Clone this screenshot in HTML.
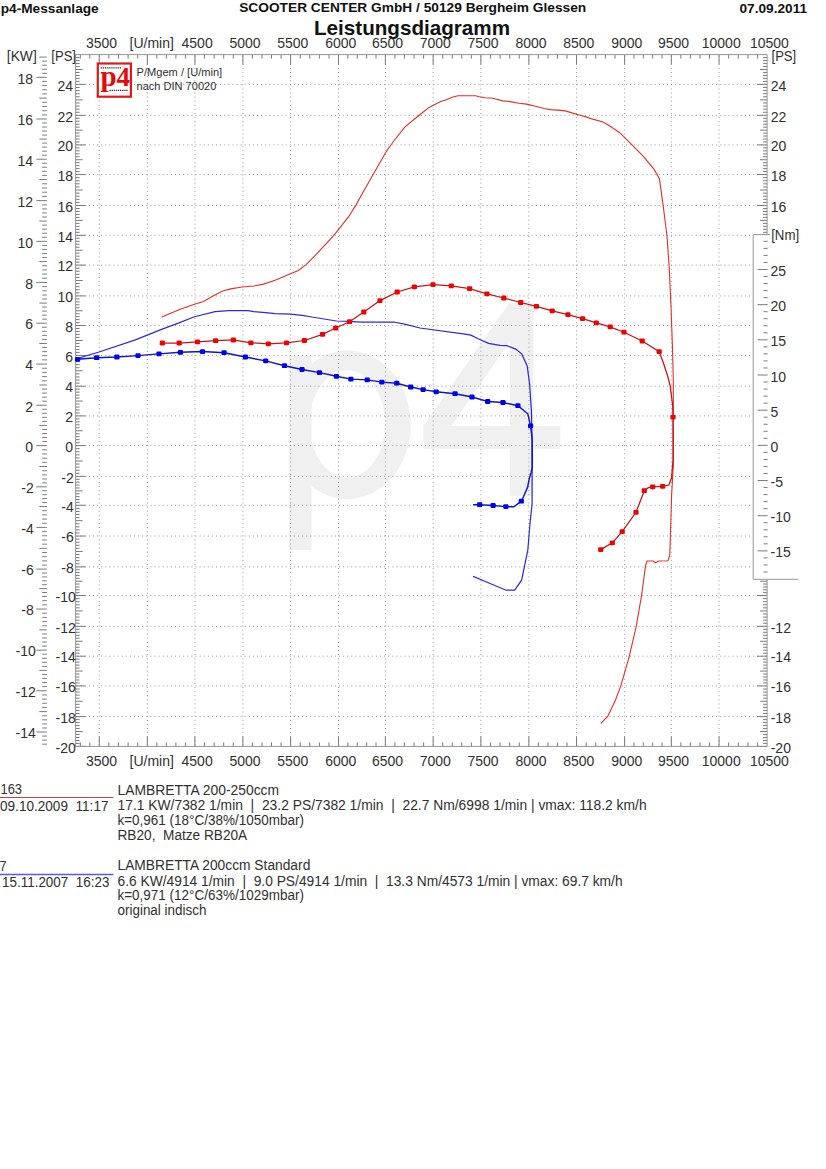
<!DOCTYPE html>
<html><head><meta charset="utf-8"><style>
html,body{margin:0;padding:0;background:#fff;width:826px;height:1169px;overflow:hidden}
svg{display:block}
</style></head><body>
<svg width="826" height="1169" viewBox="0 0 826 1169">
<rect width="826" height="1169" fill="#fff"/>
<defs><clipPath id="bc"><rect x="300" y="300" width="200" height="220"/></clipPath></defs>
<g fill="#f0f0f0">
<rect x="288.8" y="355.6" width="22.7" height="194.6"/>
<path clip-path="url(#bc)" fill-rule="evenodd" d="M347.35 350.6A63.45 74.25 0 1 1 347.35 499.1A63.45 74.25 0 1 1 347.35 350.6ZM347.35 370.3A37.85 53.6 0 1 0 347.35 477.5A37.85 53.6 0 1 0 347.35 370.3Z"/>
<path fill-rule="evenodd" d="M508.8 303.4H533.5V426H560.2V448.7H533.5V495.8H509.8V448.7H423.4V426ZM451.2 426H509.8V341.5Z"/>
</g>
<path d="M99.26 55.6V746.4M147.34 55.6V746.4M194.93 55.6V746.4M242.9 55.6V746.4M290.6 55.6V746.4M338.54 55.6V746.4M385.38 55.6V746.4M433.15 55.6V746.4M480.87 55.6V746.4M528.87 55.6V746.4M576.54 55.6V746.4M624.65 55.6V746.4M671.33 55.6V746.4M719.04 55.6V746.4" stroke="#999999" stroke-dasharray="1 3.1" fill="none"/>
<path d="M76.6 716.6H767.1M76.6 685.92H767.1M76.6 656.19H767.1M76.6 626.34H767.1M76.6 595.53H767.1M76.6 566.85H767.1M76.6 536.04H767.1M76.6 505.31H767.1M76.6 476.4H767.1M76.6 445.6H767.1M76.6 415.92H767.1M76.6 386.19H767.1M76.6 355.41H767.1M76.6 325.53H767.1M76.6 295.92H767.1M76.6 265.12H767.1M76.6 235.31H767.1M76.6 205.53H767.1M76.6 174.54H767.1M76.6 144.91H767.1M76.6 115.35H767.1M76.6 84.39H767.1" stroke="#999999" stroke-dasharray="1 3.1" fill="none"/>
<path d="M80.33 746.4v-4M80.33 54.6v4M89.8 746.4v-4M89.8 54.6v4M99.26 746.4v-10M99.26 54.6v10M108.88 746.4v-4M108.88 54.6v4M118.49 746.4v-4M118.49 54.6v4M128.11 746.4v-4M128.11 54.6v4M137.72 746.4v-4M137.72 54.6v4M147.34 746.4v-10M147.34 54.6v10M156.86 746.4v-4M156.86 54.6v4M166.38 746.4v-4M166.38 54.6v4M175.89 746.4v-4M175.89 54.6v4M185.41 746.4v-4M185.41 54.6v4M194.93 746.4v-10M194.93 54.6v10M204.52 746.4v-4M204.52 54.6v4M214.12 746.4v-4M214.12 54.6v4M223.71 746.4v-4M223.71 54.6v4M233.31 746.4v-4M233.31 54.6v4M242.9 746.4v-10M242.9 54.6v10M252.44 746.4v-4M252.44 54.6v4M261.98 746.4v-4M261.98 54.6v4M271.52 746.4v-4M271.52 54.6v4M281.06 746.4v-4M281.06 54.6v4M290.6 746.4v-10M290.6 54.6v10M300.19 746.4v-4M300.19 54.6v4M309.78 746.4v-4M309.78 54.6v4M319.36 746.4v-4M319.36 54.6v4M328.95 746.4v-4M328.95 54.6v4M338.54 746.4v-10M338.54 54.6v10M347.91 746.4v-4M347.91 54.6v4M357.28 746.4v-4M357.28 54.6v4M366.64 746.4v-4M366.64 54.6v4M376.01 746.4v-4M376.01 54.6v4M385.38 746.4v-10M385.38 54.6v10M394.93 746.4v-4M394.93 54.6v4M404.49 746.4v-4M404.49 54.6v4M414.04 746.4v-4M414.04 54.6v4M423.6 746.4v-4M423.6 54.6v4M433.15 746.4v-10M433.15 54.6v10M442.69 746.4v-4M442.69 54.6v4M452.24 746.4v-4M452.24 54.6v4M461.78 746.4v-4M461.78 54.6v4M471.33 746.4v-4M471.33 54.6v4M480.87 746.4v-10M480.87 54.6v10M490.47 746.4v-4M490.47 54.6v4M500.07 746.4v-4M500.07 54.6v4M509.67 746.4v-4M509.67 54.6v4M519.27 746.4v-4M519.27 54.6v4M528.87 746.4v-10M528.87 54.6v10M538.4 746.4v-4M538.4 54.6v4M547.94 746.4v-4M547.94 54.6v4M557.47 746.4v-4M557.47 54.6v4M567.01 746.4v-4M567.01 54.6v4M576.54 746.4v-10M576.54 54.6v10M586.16 746.4v-4M586.16 54.6v4M595.78 746.4v-4M595.78 54.6v4M605.41 746.4v-4M605.41 54.6v4M615.03 746.4v-4M615.03 54.6v4M624.65 746.4v-10M624.65 54.6v10M633.99 746.4v-4M633.99 54.6v4M643.32 746.4v-4M643.32 54.6v4M652.66 746.4v-4M652.66 54.6v4M661.99 746.4v-4M661.99 54.6v4M671.33 746.4v-10M671.33 54.6v10M680.87 746.4v-4M680.87 54.6v4M690.41 746.4v-4M690.41 54.6v4M699.96 746.4v-4M699.96 54.6v4M709.5 746.4v-4M709.5 54.6v4M719.04 746.4v-10M719.04 54.6v10M728.67 746.4v-4M728.67 54.6v4M738.3 746.4v-4M738.3 54.6v4M747.94 746.4v-4M747.94 54.6v4M757.57 746.4v-4M757.57 54.6v4M75.6 746.4h10M767.1 746.4h-10M75.6 743.42h4M767.1 743.42h-4M75.6 740.44h4M767.1 740.44h-4M75.6 737.46h4M767.1 737.46h-4M75.6 734.48h4M767.1 734.48h-4M75.6 731.5h7M767.1 731.5h-7M75.6 728.52h4M767.1 728.52h-4M75.6 725.54h4M767.1 725.54h-4M75.6 722.56h4M767.1 722.56h-4M75.6 719.58h4M767.1 719.58h-4M75.6 716.6h10M767.1 716.6h-10M75.6 713.53h4M767.1 713.53h-4M75.6 710.46h4M767.1 710.46h-4M75.6 707.4h4M767.1 707.4h-4M75.6 704.33h4M767.1 704.33h-4M75.6 701.26h7M767.1 701.26h-7M75.6 698.19h4M767.1 698.19h-4M75.6 695.12h4M767.1 695.12h-4M75.6 692.06h4M767.1 692.06h-4M75.6 688.99h4M767.1 688.99h-4M75.6 685.92h10M767.1 685.92h-10M75.6 682.95h4M767.1 682.95h-4M75.6 679.97h4M767.1 679.97h-4M75.6 677h4M767.1 677h-4M75.6 674.03h4M767.1 674.03h-4M75.6 671.06h7M767.1 671.06h-7M75.6 668.08h4M767.1 668.08h-4M75.6 665.11h4M767.1 665.11h-4M75.6 662.14h4M767.1 662.14h-4M75.6 659.16h4M767.1 659.16h-4M75.6 656.19h10M767.1 656.19h-10M75.6 653.21h4M767.1 653.21h-4M75.6 650.22h4M767.1 650.22h-4M75.6 647.24h4M767.1 647.24h-4M75.6 644.25h4M767.1 644.25h-4M75.6 641.27h7M767.1 641.27h-7M75.6 638.28h4M767.1 638.28h-4M75.6 635.3h4M767.1 635.3h-4M75.6 632.31h4M767.1 632.31h-4M75.6 629.33h4M767.1 629.33h-4M75.6 626.34h10M767.1 626.34h-10M75.6 623.26h4M767.1 623.26h-4M75.6 620.18h4M767.1 620.18h-4M75.6 617.1h4M767.1 617.1h-4M75.6 614.02h4M767.1 614.02h-4M75.6 610.93h7M767.1 610.93h-7M75.6 607.85h4M767.1 607.85h-4M75.6 604.77h4M767.1 604.77h-4M75.6 601.69h4M767.1 601.69h-4M75.6 598.61h4M767.1 598.61h-4M75.6 595.53h10M767.1 595.53h-10M75.6 592.66h4M767.1 592.66h-4M75.6 589.79h4M767.1 589.79h-4M75.6 586.93h4M767.1 586.93h-4M75.6 584.06h4M767.1 584.06h-4M75.6 581.19h7M767.1 581.19h-7M75.6 578.32h4M767.1 578.32h-4M75.6 575.45h4M767.1 575.45h-4M75.6 572.59h4M767.1 572.59h-4M75.6 569.72h4M767.1 569.72h-4M75.6 566.85h10M767.1 566.85h-10M75.6 563.77h4M767.1 563.77h-4M75.6 560.69h4M767.1 560.69h-4M75.6 557.61h4M767.1 557.61h-4M75.6 554.53h4M767.1 554.53h-4M75.6 551.44h7M767.1 551.44h-7M75.6 548.36h4M767.1 548.36h-4M75.6 545.28h4M767.1 545.28h-4M75.6 542.2h4M767.1 542.2h-4M75.6 539.12h4M767.1 539.12h-4M75.6 536.04h10M767.1 536.04h-10M75.6 532.97h4M767.1 532.97h-4M75.6 529.89h4M767.1 529.89h-4M75.6 526.82h4M767.1 526.82h-4M75.6 523.75h4M767.1 523.75h-4M75.6 520.67h7M767.1 520.67h-7M75.6 517.6h4M767.1 517.6h-4M75.6 514.53h4M767.1 514.53h-4M75.6 511.46h4M767.1 511.46h-4M75.6 508.38h4M767.1 508.38h-4M75.6 505.31h10M767.1 505.31h-10M75.6 502.42h4M767.1 502.42h-4M75.6 499.53h4M767.1 499.53h-4M75.6 496.64h4M767.1 496.64h-4M75.6 493.75h4M767.1 493.75h-4M75.6 490.86h7M767.1 490.86h-7M75.6 487.96h4M767.1 487.96h-4M75.6 485.07h4M767.1 485.07h-4M75.6 482.18h4M767.1 482.18h-4M75.6 479.29h4M767.1 479.29h-4M75.6 476.4h10M767.1 476.4h-10M75.6 473.32h4M767.1 473.32h-4M75.6 470.24h4M767.1 470.24h-4M75.6 467.16h4M767.1 467.16h-4M75.6 464.08h4M767.1 464.08h-4M75.6 461h7M767.1 461h-7M75.6 457.92h4M767.1 457.92h-4M75.6 454.84h4M767.1 454.84h-4M75.6 451.76h4M767.1 451.76h-4M75.6 448.68h4M767.1 448.68h-4M75.6 445.6h10M767.1 445.6h-10M75.6 442.63h4M767.1 442.63h-4M75.6 439.66h4M767.1 439.66h-4M75.6 436.7h4M767.1 436.7h-4M75.6 433.73h4M767.1 433.73h-4M75.6 430.76h7M767.1 430.76h-7M75.6 427.79h4M767.1 427.79h-4M75.6 424.82h4M767.1 424.82h-4M75.6 421.86h4M767.1 421.86h-4M75.6 418.89h4M767.1 418.89h-4M75.6 415.92h10M767.1 415.92h-10M75.6 412.95h4M767.1 412.95h-4M75.6 409.97h4M767.1 409.97h-4M75.6 407h4M767.1 407h-4M75.6 404.03h4M767.1 404.03h-4M75.6 401.06h7M767.1 401.06h-7M75.6 398.08h4M767.1 398.08h-4M75.6 395.11h4M767.1 395.11h-4M75.6 392.14h4M767.1 392.14h-4M75.6 389.16h4M767.1 389.16h-4M75.6 386.19h10M767.1 386.19h-10M75.6 383.11h4M767.1 383.11h-4M75.6 380.03h4M767.1 380.03h-4M75.6 376.96h4M767.1 376.96h-4M75.6 373.88h4M767.1 373.88h-4M75.6 370.8h7M767.1 370.8h-7M75.6 367.72h4M767.1 367.72h-4M75.6 364.64h4M767.1 364.64h-4M75.6 361.57h4M767.1 361.57h-4M75.6 358.49h4M767.1 358.49h-4M75.6 355.41h10M767.1 355.41h-10M75.6 352.42h4M767.1 352.42h-4M75.6 349.43h4M767.1 349.43h-4M75.6 346.45h4M767.1 346.45h-4M75.6 343.46h4M767.1 343.46h-4M75.6 340.47h7M767.1 340.47h-7M75.6 337.48h4M767.1 337.48h-4M75.6 334.49h4M767.1 334.49h-4M75.6 331.51h4M767.1 331.51h-4M75.6 328.52h4M767.1 328.52h-4M75.6 325.53h10M767.1 325.53h-10M75.6 322.57h4M767.1 322.57h-4M75.6 319.61h4M767.1 319.61h-4M75.6 316.65h4M767.1 316.65h-4M75.6 313.69h4M767.1 313.69h-4M75.6 310.73h7M767.1 310.73h-7M75.6 307.76h4M767.1 307.76h-4M75.6 304.8h4M767.1 304.8h-4M75.6 301.84h4M767.1 301.84h-4M75.6 298.88h4M767.1 298.88h-4M75.6 295.92h10M767.1 295.92h-10M75.6 292.84h4M767.1 292.84h-4M75.6 289.76h4M767.1 289.76h-4M75.6 286.68h4M767.1 286.68h-4M75.6 283.6h4M767.1 283.6h-4M75.6 280.52h7M767.1 280.52h-7M75.6 277.44h4M767.1 277.44h-4M75.6 274.36h4M767.1 274.36h-4M75.6 271.28h4M767.1 271.28h-4M75.6 268.2h4M767.1 268.2h-4M75.6 265.12h10M767.1 265.12h-10M75.6 262.14h4M767.1 262.14h-4M75.6 259.16h4M767.1 259.16h-4M75.6 256.18h4M767.1 256.18h-4M75.6 253.2h4M767.1 253.2h-4M75.6 250.22h7M767.1 250.22h-7M75.6 247.23h4M767.1 247.23h-4M75.6 244.25h4M767.1 244.25h-4M75.6 241.27h4M767.1 241.27h-4M75.6 238.29h4M767.1 238.29h-4M75.6 235.31h10M767.1 235.31h-10M75.6 232.33h4M767.1 232.33h-4M75.6 229.35h4M767.1 229.35h-4M75.6 226.38h4M767.1 226.38h-4M75.6 223.4h4M767.1 223.4h-4M75.6 220.42h7M767.1 220.42h-7M75.6 217.44h4M767.1 217.44h-4M75.6 214.46h4M767.1 214.46h-4M75.6 211.49h4M767.1 211.49h-4M75.6 208.51h4M767.1 208.51h-4M75.6 205.53h10M767.1 205.53h-10M75.6 202.43h4M767.1 202.43h-4M75.6 199.33h4M767.1 199.33h-4M75.6 196.23h4M767.1 196.23h-4M75.6 193.13h4M767.1 193.13h-4M75.6 190.03h7M767.1 190.03h-7M75.6 186.94h4M767.1 186.94h-4M75.6 183.84h4M767.1 183.84h-4M75.6 180.74h4M767.1 180.74h-4M75.6 177.64h4M767.1 177.64h-4M75.6 174.54h10M767.1 174.54h-10M75.6 171.58h4M767.1 171.58h-4M75.6 168.61h4M767.1 168.61h-4M75.6 165.65h4M767.1 165.65h-4M75.6 162.69h4M767.1 162.69h-4M75.6 159.72h7M767.1 159.72h-7M75.6 156.76h4M767.1 156.76h-4M75.6 153.8h4M767.1 153.8h-4M75.6 150.84h4M767.1 150.84h-4M75.6 147.87h4M767.1 147.87h-4M75.6 144.91h10M767.1 144.91h-10M75.6 141.95h4M767.1 141.95h-4M75.6 139h4M767.1 139h-4M75.6 136.04h4M767.1 136.04h-4M75.6 133.09h4M767.1 133.09h-4M75.6 130.13h7M767.1 130.13h-7M75.6 127.17h4M767.1 127.17h-4M75.6 124.22h4M767.1 124.22h-4M75.6 121.26h4M767.1 121.26h-4M75.6 118.31h4M767.1 118.31h-4M75.6 115.35h10M767.1 115.35h-10M75.6 112.25h4M767.1 112.25h-4M75.6 109.16h4M767.1 109.16h-4M75.6 106.06h4M767.1 106.06h-4M75.6 102.97h4M767.1 102.97h-4M75.6 99.87h7M767.1 99.87h-7M75.6 96.77h4M767.1 96.77h-4M75.6 93.68h4M767.1 93.68h-4M75.6 90.58h4M767.1 90.58h-4M75.6 87.49h4M767.1 87.49h-4M75.6 84.39h10M767.1 84.39h-10M75.6 81.41h4M767.1 81.41h-4M75.6 78.43h4M767.1 78.43h-4M75.6 75.45h4M767.1 75.45h-4M75.6 72.47h4M767.1 72.47h-4M75.6 69.5h7M767.1 69.5h-7M75.6 66.52h4M767.1 66.52h-4M75.6 63.54h4M767.1 63.54h-4M75.6 60.56h4M767.1 60.56h-4M75.6 57.58h4M767.1 57.58h-4M46.8 744.17h-4.6M46.8 740.12h-4.6M46.8 736.07h-4.6M46.8 732.02h-10.5M46.8 727.97h-4.6M46.8 723.91h-4.6M46.8 719.86h-4.6M46.8 715.79h-4.6M46.8 711.62h-7.5M46.8 707.44h-4.6M46.8 703.27h-4.6M46.8 699.1h-4.6M46.8 694.93h-4.6M46.8 690.76h-10.5M46.8 686.59h-4.6M46.8 682.52h-4.6M46.8 678.48h-4.6M46.8 674.44h-4.6M46.8 670.4h-7.5M46.8 666.36h-4.6M46.8 662.31h-4.6M46.8 658.27h-4.6M46.8 654.22h-4.6M46.8 650.16h-10.5M46.8 646.1h-4.6M46.8 642.05h-4.6M46.8 637.99h-4.6M46.8 633.93h-4.6M46.8 629.87h-7.5M46.8 625.8h-4.6M46.8 621.61h-4.6M46.8 617.42h-4.6M46.8 613.23h-4.6M46.8 609.04h-10.5M46.8 604.85h-4.6M46.8 600.66h-4.6M46.8 596.47h-4.6M46.8 592.51h-4.6M46.8 588.61h-7.5M46.8 584.71h-4.6M46.8 580.81h-4.6M46.8 576.91h-4.6M46.8 573.01h-4.6M46.8 569.11h-10.5M46.8 565.09h-4.6M46.8 560.9h-4.6M46.8 556.71h-4.6M46.8 552.52h-4.6M46.8 548.33h-7.5M46.8 544.15h-4.6M46.8 539.96h-4.6M46.8 535.77h-4.6M46.8 531.59h-4.6M46.8 527.41h-10.5M46.8 523.23h-4.6M46.8 519.06h-4.6M46.8 514.88h-4.6M46.8 510.7h-4.6M46.8 506.52h-7.5M46.8 502.52h-4.6M46.8 498.59h-4.6M46.8 494.66h-4.6M46.8 490.73h-4.6M46.8 486.8h-10.5M46.8 482.87h-4.6M46.8 478.94h-4.6M46.8 474.91h-4.6M46.8 470.73h-4.6M46.8 466.54h-7.5M46.8 462.35h-4.6M46.8 458.16h-4.6M46.8 453.98h-4.6M46.8 449.79h-4.6M46.8 445.6h-10.5M46.8 441.56h-4.6M46.8 437.53h-4.6M46.8 433.49h-4.6M46.8 429.46h-4.6M46.8 425.42h-7.5M46.8 421.39h-4.6M46.8 417.35h-4.6M46.8 413.31h-4.6M46.8 409.27h-4.6M46.8 405.23h-10.5M46.8 401.19h-4.6M46.8 397.14h-4.6M46.8 393.1h-4.6M46.8 389.06h-4.6M46.8 384.98h-7.5M46.8 380.79h-4.6M46.8 376.61h-4.6M46.8 372.42h-4.6M46.8 368.24h-4.6M46.8 364.05h-10.5M46.8 359.87h-4.6M46.8 355.68h-4.6M46.8 351.61h-4.6M46.8 347.55h-4.6M46.8 343.49h-7.5M46.8 339.42h-4.6M46.8 335.36h-4.6M46.8 331.3h-4.6M46.8 327.24h-4.6M46.8 323.19h-10.5M46.8 319.17h-4.6M46.8 315.14h-4.6M46.8 311.12h-4.6M46.8 307.09h-4.6M46.8 303.07h-7.5M46.8 299.04h-4.6M46.8 294.98h-4.6M46.8 290.79h-4.6M46.8 286.6h-4.6M46.8 282.41h-10.5M46.8 278.23h-4.6M46.8 274.04h-4.6M46.8 269.85h-4.6M46.8 265.66h-4.6M46.8 261.59h-7.5M46.8 257.54h-4.6M46.8 253.49h-4.6M46.8 249.43h-4.6M46.8 245.38h-4.6M46.8 241.33h-10.5M46.8 237.28h-4.6M46.8 233.22h-4.6M46.8 229.18h-4.6M46.8 225.13h-4.6M46.8 221.08h-7.5M46.8 217.03h-4.6M46.8 212.98h-4.6M46.8 208.93h-4.6M46.8 204.86h-4.6M46.8 200.64h-10.5M46.8 196.43h-4.6M46.8 192.22h-4.6M46.8 188h-4.6M46.8 183.79h-4.6M46.8 179.57h-7.5M46.8 175.36h-4.6M46.8 171.3h-4.6M46.8 167.27h-4.6M46.8 163.24h-4.6M46.8 159.21h-10.5M46.8 155.18h-4.6M46.8 151.15h-4.6M46.8 147.13h-4.6M46.8 143.1h-4.6M46.8 139.08h-7.5M46.8 135.06h-4.6M46.8 131.04h-4.6M46.8 127.03h-4.6M46.8 123.01h-4.6M46.8 118.99h-10.5M46.8 114.95h-4.6M46.8 110.74h-4.6M46.8 106.53h-4.6M46.8 102.32h-4.6M46.8 98.11h-7.5M46.8 93.9h-4.6M46.8 89.69h-4.6M46.8 85.48h-4.6M46.8 81.39h-4.6M46.8 77.34h-10.5M46.8 73.29h-4.6M46.8 69.24h-4.6M46.8 65.19h-4.6M46.8 61.14h-4.6M46.8 57.09h-7.5" stroke="#7a7a7a" fill="none"/>
<path d="M75.6 54.6H767.1V746.4H75.6Z" stroke="#959595" fill="none"/>
<polyline points="161.8,317 180.2,309.2 193.7,304.4 203.4,301.5 213.1,295.9 222.8,291 230.5,288.9 242.2,287 253.8,286 263.5,284.1 275.1,280.2 288.7,274.4 298.3,270.5 306.1,264.7 315.3,255.4 328.3,241.3 334.9,234.1 349,216.2 356.2,204.6 364.3,190 373,174.8 385.4,153 393.7,141 404.8,127.2 414.5,119 424.2,111.2 429.1,107.4 433.9,105 440.7,101.6 445.5,100.1 452.3,97.2 458.1,95.8 475.5,95.8 479.4,96.8 485.3,97.8 492.9,98.3 502.7,100.9 510.3,101.6 519,103.3 526.6,104.1 535.4,106.3 544.1,108.5 550.6,109.6 557.6,110.1 565.3,110.9 571.8,112.9 578.3,114.7 586,116.9 593.6,119.4 602.3,121.8 606.6,124 613.2,128.3 619.7,132.7 626.3,139.2 643.4,156.3 654.1,169.4 659.4,178.8 663.1,205.2 666.9,235.3 669.1,265.4 671,306.8 672.5,348.2 673.3,380 673.4,463.4 671.6,495.7 669.8,555 668,560.8 658.6,561 655.5,562.8 653.2,561 647,561 645.5,566.2 641.6,595.4 636.2,626.3 629.3,656.3 620.8,685.9 615.4,700.2 607.7,716.4 600.8,723.3" fill="none" stroke="#e0302a" stroke-width="1.1"/>
<polyline points="162.3,343 179.2,343 197.5,341.8 215.6,340.7 233.4,340 250.9,342.8 268.3,343.9 286.5,342.8 304.4,340.5 322.5,334.4 335.7,328 349.5,321.7 363.8,312 380,300.6 397.2,292 414.4,286.8 433,284.6 451.3,285.8 469.6,288.6 486.9,293.9 503.8,298 520.7,302.5 536.4,306.3 552.2,310.8 567.9,314.6 582.6,318.6 596.3,322.8 610.2,326.9 624,332.2 642.2,341 659.2,351.6 663.5,363.2 667.8,376.5 670.2,386.2 672.7,405.6 673,417.1 673,459.8 671.6,477.8 668.9,485 662.6,486.4 652.7,486.8 648.3,487.7 644.3,490.7 636,512.3 622.2,531.7 612.3,542.8 600.7,549.6" fill="none" stroke="#c41414" stroke-width="1.25"/>
<polyline points="76,358.8 98.3,352.3 135.4,339.9 161.5,329.4 179,322.9 193.7,317 215,311.6 228.6,310.6 248,310.6 253.8,311.6 265.4,312.7 275.1,313.7 290.6,314.1 302.2,315.4 311.9,317 336.4,321 348.8,321.3 362,322.1 393.8,322 405.6,324.3 420,328 465,334.2 470.9,335.1 478.2,338.8 488.5,343.4 500,345.4 506.6,345.7 515.7,349.1 521.7,353.9 527.2,366 529.6,384.2 531.4,410.8 532.1,440 532.1,504 530.1,522.4 527.8,550.2 521.6,580.2 514.7,590.2 506.2,590.2 487.7,582.5 473.1,576.4" fill="none" stroke="#2a2ad0" stroke-width="1.2"/>
<polyline points="77.6,359.3 96.6,357.7 116.9,357 138,355.6 159,353.9 180.4,352.3 202.5,351.6 224.1,352.7 245.4,357 265.7,360.9 284.5,365.7 302,369.5 319.5,372.6 336.4,376.3 350.9,379.1 367.2,379.9 381.8,382.1 396.8,383.2 410.7,387 423.1,389.6 436.2,391.8 455,393.7 472,397 487.7,401.5 503,402.5 517.9,405.7 527.8,413.8 530.6,425.9 532.2,440 532.3,467.4 531,472.9 529.3,478.4 527.6,487.3 522.8,498.2 521.3,501.2 513.9,506.8 505.9,506.6 493.1,505.5 479.7,504.7 473.1,504.7" fill="none" stroke="#1414c0" stroke-width="1.45"/>
<g fill="#f00000"><rect x="159.7" y="340.6" width="5.2" height="4.8" rx="1.2"/><rect x="176.6" y="340.6" width="5.2" height="4.8" rx="1.2"/><rect x="194.9" y="339.4" width="5.2" height="4.8" rx="1.2"/><rect x="213" y="338.3" width="5.2" height="4.8" rx="1.2"/><rect x="230.8" y="337.6" width="5.2" height="4.8" rx="1.2"/><rect x="248.3" y="340.4" width="5.2" height="4.8" rx="1.2"/><rect x="265.7" y="341.5" width="5.2" height="4.8" rx="1.2"/><rect x="283.9" y="340.4" width="5.2" height="4.8" rx="1.2"/><rect x="301.8" y="338.1" width="5.2" height="4.8" rx="1.2"/><rect x="319.9" y="332" width="5.2" height="4.8" rx="1.2"/><rect x="333.1" y="325.6" width="5.2" height="4.8" rx="1.2"/><rect x="346.9" y="319.3" width="5.2" height="4.8" rx="1.2"/><rect x="361.2" y="309.6" width="5.2" height="4.8" rx="1.2"/><rect x="377.4" y="298.2" width="5.2" height="4.8" rx="1.2"/><rect x="394.6" y="289.6" width="5.2" height="4.8" rx="1.2"/><rect x="411.8" y="284.4" width="5.2" height="4.8" rx="1.2"/><rect x="430.4" y="282.2" width="5.2" height="4.8" rx="1.2"/><rect x="448.7" y="283.4" width="5.2" height="4.8" rx="1.2"/><rect x="467" y="286.2" width="5.2" height="4.8" rx="1.2"/><rect x="484.3" y="291.5" width="5.2" height="4.8" rx="1.2"/><rect x="501.2" y="295.6" width="5.2" height="4.8" rx="1.2"/><rect x="518.1" y="300.1" width="5.2" height="4.8" rx="1.2"/><rect x="533.8" y="303.9" width="5.2" height="4.8" rx="1.2"/><rect x="549.6" y="308.4" width="5.2" height="4.8" rx="1.2"/><rect x="565.3" y="312.2" width="5.2" height="4.8" rx="1.2"/><rect x="580" y="316.2" width="5.2" height="4.8" rx="1.2"/><rect x="593.7" y="320.4" width="5.2" height="4.8" rx="1.2"/><rect x="607.6" y="324.5" width="5.2" height="4.8" rx="1.2"/><rect x="621.4" y="329.8" width="5.2" height="4.8" rx="1.2"/><rect x="639.6" y="338.6" width="5.2" height="4.8" rx="1.2"/><rect x="656.6" y="349.2" width="5.2" height="4.8" rx="1.2"/><rect x="670.4" y="414.7" width="5.2" height="4.8" rx="1.2"/><rect x="660" y="484" width="5.2" height="4.8" rx="1.2"/><rect x="650.1" y="484.4" width="5.2" height="4.8" rx="1.2"/><rect x="641.7" y="488.3" width="5.2" height="4.8" rx="1.2"/><rect x="633.4" y="509.9" width="5.2" height="4.8" rx="1.2"/><rect x="619.6" y="529.3" width="5.2" height="4.8" rx="1.2"/><rect x="609.7" y="540.4" width="5.2" height="4.8" rx="1.2"/><rect x="598.1" y="547.2" width="5.2" height="4.8" rx="1.2"/></g>
<g fill="#0000f0"><rect x="75" y="356.9" width="5.2" height="4.8" rx="1.2"/><rect x="94" y="355.3" width="5.2" height="4.8" rx="1.2"/><rect x="114.3" y="354.6" width="5.2" height="4.8" rx="1.2"/><rect x="135.4" y="353.2" width="5.2" height="4.8" rx="1.2"/><rect x="156.4" y="351.5" width="5.2" height="4.8" rx="1.2"/><rect x="177.8" y="349.9" width="5.2" height="4.8" rx="1.2"/><rect x="199.9" y="349.2" width="5.2" height="4.8" rx="1.2"/><rect x="221.5" y="350.3" width="5.2" height="4.8" rx="1.2"/><rect x="242.8" y="354.6" width="5.2" height="4.8" rx="1.2"/><rect x="263.1" y="358.5" width="5.2" height="4.8" rx="1.2"/><rect x="281.9" y="363.3" width="5.2" height="4.8" rx="1.2"/><rect x="299.4" y="367.1" width="5.2" height="4.8" rx="1.2"/><rect x="316.9" y="370.2" width="5.2" height="4.8" rx="1.2"/><rect x="333.8" y="373.9" width="5.2" height="4.8" rx="1.2"/><rect x="348.3" y="376.7" width="5.2" height="4.8" rx="1.2"/><rect x="364.6" y="377.5" width="5.2" height="4.8" rx="1.2"/><rect x="379.2" y="379.7" width="5.2" height="4.8" rx="1.2"/><rect x="394.2" y="380.8" width="5.2" height="4.8" rx="1.2"/><rect x="408.1" y="384.6" width="5.2" height="4.8" rx="1.2"/><rect x="420.5" y="387.2" width="5.2" height="4.8" rx="1.2"/><rect x="433.6" y="389.4" width="5.2" height="4.8" rx="1.2"/><rect x="452.4" y="391.3" width="5.2" height="4.8" rx="1.2"/><rect x="469.4" y="394.6" width="5.2" height="4.8" rx="1.2"/><rect x="485.1" y="399.1" width="5.2" height="4.8" rx="1.2"/><rect x="500.4" y="400.1" width="5.2" height="4.8" rx="1.2"/><rect x="515.3" y="403.3" width="5.2" height="4.8" rx="1.2"/><rect x="528" y="423.5" width="5.2" height="4.8" rx="1.2"/><rect x="518.7" y="498.8" width="5.2" height="4.8" rx="1.2"/><rect x="503.3" y="504.2" width="5.2" height="4.8" rx="1.2"/><rect x="490.5" y="503.1" width="5.2" height="4.8" rx="1.2"/><rect x="477.1" y="502.3" width="5.2" height="4.8" rx="1.2"/></g>
<rect x="753" y="234.5" width="15.5" height="345" fill="#ffffff"/>
<path d="M767.6 571.98h-4M767.6 564.95h-4M767.6 557.91h-4M767.6 550.88h-10M767.6 543.84h-4M767.6 536.81h-4M767.6 529.77h-4M767.6 522.74h-4M767.6 515.7h-10M767.6 508.67h-4M767.6 501.63h-4M767.6 494.6h-4M767.6 487.56h-4M767.6 480.53h-10M767.6 473.49h-4M767.6 466.46h-4M767.6 459.42h-4M767.6 452.39h-4M767.6 445.35h-10M767.6 438.31h-4M767.6 431.28h-4M767.6 424.25h-4M767.6 417.21h-4M767.6 410.18h-10M767.6 403.14h-4M767.6 396.11h-4M767.6 389.07h-4M767.6 382.04h-4M767.6 375h-10M767.6 367.97h-4M767.6 360.93h-4M767.6 353.9h-4M767.6 346.86h-4M767.6 339.83h-10M767.6 332.79h-4M767.6 325.75h-4M767.6 318.72h-4M767.6 311.69h-4M767.6 304.65h-10M767.6 297.62h-4M767.6 290.58h-4M767.6 283.55h-4M767.6 276.51h-4M767.6 269.48h-10M767.6 262.44h-4M767.6 255.41h-4M767.6 248.37h-4M767.6 241.34h-4" stroke="#7a7a7a" fill="none"/>
<path d="M770 234.6H753.2V579.3H798" stroke="#959595" fill="none"/>
<g font-family="'Liberation Sans', sans-serif" fill="#303030">
<text x="0.7" y="12.8" font-size="13" textLength="98" lengthAdjust="spacingAndGlyphs" font-weight="bold" fill="#111">p4-Messanlage</text>
<text x="239.2" y="12.2" font-size="13" textLength="347" lengthAdjust="spacingAndGlyphs" font-weight="bold" fill="#111">SCOOTER CENTER GmbH / 50129 Bergheim Glessen</text>
<text x="739.5" y="12.9" font-size="13" textLength="67.6" lengthAdjust="spacingAndGlyphs" font-weight="bold" fill="#111">07.09.2011</text>
<text x="314" y="35.4" font-size="21" textLength="196" lengthAdjust="spacingAndGlyphs" font-weight="bold" fill="#111">Leistungsdiagramm</text>
<text x="101.46" y="47.9" font-size="14" text-anchor="middle">3500</text>
<text x="101.46" y="766.1" font-size="14" text-anchor="middle">3500</text>
<text x="151.7" y="47.9" font-size="14" text-anchor="middle">[U/min]</text>
<text x="151.7" y="766.1" font-size="14" text-anchor="middle">[U/min]</text>
<text x="197.13" y="47.9" font-size="14" text-anchor="middle">4500</text>
<text x="197.13" y="766.1" font-size="14" text-anchor="middle">4500</text>
<text x="245.1" y="47.9" font-size="14" text-anchor="middle">5000</text>
<text x="245.1" y="766.1" font-size="14" text-anchor="middle">5000</text>
<text x="292.8" y="47.9" font-size="14" text-anchor="middle">5500</text>
<text x="292.8" y="766.1" font-size="14" text-anchor="middle">5500</text>
<text x="340.74" y="47.9" font-size="14" text-anchor="middle">6000</text>
<text x="340.74" y="766.1" font-size="14" text-anchor="middle">6000</text>
<text x="387.58" y="47.9" font-size="14" text-anchor="middle">6500</text>
<text x="387.58" y="766.1" font-size="14" text-anchor="middle">6500</text>
<text x="435.35" y="47.9" font-size="14" text-anchor="middle">7000</text>
<text x="435.35" y="766.1" font-size="14" text-anchor="middle">7000</text>
<text x="483.07" y="47.9" font-size="14" text-anchor="middle">7500</text>
<text x="483.07" y="766.1" font-size="14" text-anchor="middle">7500</text>
<text x="531.07" y="47.9" font-size="14" text-anchor="middle">8000</text>
<text x="531.07" y="766.1" font-size="14" text-anchor="middle">8000</text>
<text x="578.74" y="47.9" font-size="14" text-anchor="middle">8500</text>
<text x="578.74" y="766.1" font-size="14" text-anchor="middle">8500</text>
<text x="626.85" y="47.9" font-size="14" text-anchor="middle">9000</text>
<text x="626.85" y="766.1" font-size="14" text-anchor="middle">9000</text>
<text x="673.53" y="47.9" font-size="14" text-anchor="middle">9500</text>
<text x="673.53" y="766.1" font-size="14" text-anchor="middle">9500</text>
<text x="721.24" y="47.9" font-size="14" text-anchor="middle">10000</text>
<text x="721.24" y="766.1" font-size="14" text-anchor="middle">10000</text>
<text x="769.4" y="47.9" font-size="14" text-anchor="middle">10500</text>
<text x="769.4" y="766.1" font-size="14" text-anchor="middle">10500</text>
<text x="6.8" y="60.7" font-size="14" textLength="30" lengthAdjust="spacingAndGlyphs">[KW]</text>
<text x="51.3" y="60.7" font-size="14" textLength="24.7" lengthAdjust="spacingAndGlyphs">[PS]</text>
<text x="771.5" y="60.9" font-size="14" textLength="24.7" lengthAdjust="spacingAndGlyphs">[PS]</text>
<text x="771.2" y="239.5" font-size="14" textLength="28" lengthAdjust="spacingAndGlyphs">[Nm]</text>
<text x="35.8" y="738.32" font-size="14" text-anchor="end">-14</text>
<text x="35.8" y="697.06" font-size="14" text-anchor="end">-12</text>
<text x="35.8" y="656.46" font-size="14" text-anchor="end">-10</text>
<text x="33.8" y="615.34" font-size="14" text-anchor="end">-8</text>
<text x="33.8" y="575.41" font-size="14" text-anchor="end">-6</text>
<text x="33.8" y="533.71" font-size="14" text-anchor="end">-4</text>
<text x="33.8" y="493.1" font-size="14" text-anchor="end">-2</text>
<text x="33" y="451.9" font-size="14" text-anchor="end">0</text>
<text x="33" y="411.53" font-size="14" text-anchor="end">2</text>
<text x="33" y="370.35" font-size="14" text-anchor="end">4</text>
<text x="33" y="329.49" font-size="14" text-anchor="end">6</text>
<text x="33" y="288.71" font-size="14" text-anchor="end">8</text>
<text x="33" y="247.63" font-size="14" text-anchor="end">10</text>
<text x="33" y="206.94" font-size="14" text-anchor="end">12</text>
<text x="33" y="165.51" font-size="14" text-anchor="end">14</text>
<text x="33" y="125.29" font-size="14" text-anchor="end">16</text>
<text x="33" y="83.64" font-size="14" text-anchor="end">18</text>
<text x="75.8" y="752.7" font-size="14" text-anchor="end">-20</text>
<text x="770.7" y="752.7" font-size="14">-20</text>
<text x="75.8" y="722.9" font-size="14" text-anchor="end">-18</text>
<text x="770.7" y="722.9" font-size="14">-18</text>
<text x="75.8" y="692.22" font-size="14" text-anchor="end">-16</text>
<text x="770.7" y="692.22" font-size="14">-16</text>
<text x="75.8" y="662.49" font-size="14" text-anchor="end">-14</text>
<text x="770.7" y="662.49" font-size="14">-14</text>
<text x="75.8" y="632.64" font-size="14" text-anchor="end">-12</text>
<text x="770.7" y="632.64" font-size="14">-12</text>
<text x="75.8" y="601.83" font-size="14" text-anchor="end">-10</text>
<text x="73.8" y="573.15" font-size="14" text-anchor="end">-8</text>
<text x="73.8" y="542.34" font-size="14" text-anchor="end">-6</text>
<text x="73.8" y="511.61" font-size="14" text-anchor="end">-4</text>
<text x="73.8" y="482.7" font-size="14" text-anchor="end">-2</text>
<text x="73" y="451.9" font-size="14" text-anchor="end">0</text>
<text x="73" y="422.22" font-size="14" text-anchor="end">2</text>
<text x="73" y="392.49" font-size="14" text-anchor="end">4</text>
<text x="73" y="361.71" font-size="14" text-anchor="end">6</text>
<text x="73" y="331.83" font-size="14" text-anchor="end">8</text>
<text x="73" y="302.22" font-size="14" text-anchor="end">10</text>
<text x="73" y="271.42" font-size="14" text-anchor="end">12</text>
<text x="73" y="241.61" font-size="14" text-anchor="end">14</text>
<text x="73" y="211.83" font-size="14" text-anchor="end">16</text>
<text x="770.7" y="211.83" font-size="14">16</text>
<text x="73" y="180.84" font-size="14" text-anchor="end">18</text>
<text x="770.7" y="180.84" font-size="14">18</text>
<text x="73" y="151.21" font-size="14" text-anchor="end">20</text>
<text x="770.7" y="151.21" font-size="14">20</text>
<text x="73" y="121.65" font-size="14" text-anchor="end">22</text>
<text x="770.7" y="121.65" font-size="14">22</text>
<text x="73" y="90.69" font-size="14" text-anchor="end">24</text>
<text x="770.7" y="90.69" font-size="14">24</text>
<text x="770.5" y="557.38" font-size="14">-15</text>
<text x="770.5" y="522.2" font-size="14">-10</text>
<text x="770.5" y="487.03" font-size="14">-5</text>
<text x="770.5" y="451.85" font-size="14">0</text>
<text x="770.5" y="416.68" font-size="14">5</text>
<text x="770.5" y="381.5" font-size="14">10</text>
<text x="770.5" y="346.33" font-size="14">15</text>
<text x="770.5" y="311.15" font-size="14">20</text>
<text x="770.5" y="275.98" font-size="14">25</text>
<text x="136.6" y="76.3" font-size="10.5" textLength="85.6" lengthAdjust="spacingAndGlyphs">P/Mgem / [U/min]</text>
<text x="136.6" y="89.9" font-size="10.5" textLength="79.7" lengthAdjust="spacingAndGlyphs">nach DIN 70020</text>
<text x="0.5" y="794.4" font-size="14" textLength="21.5" lengthAdjust="spacingAndGlyphs">163</text>
<text x="0" y="810.6" font-size="14" textLength="108.5" lengthAdjust="spacingAndGlyphs" xml:space="preserve">09.10.2009  11:17</text>
<text x="117.5" y="794.6" font-size="14" textLength="161.6" lengthAdjust="spacingAndGlyphs">LAMBRETTA 200-250ccm</text>
<text x="117.5" y="809.8" font-size="14" textLength="529.1" lengthAdjust="spacingAndGlyphs" xml:space="preserve">17.1 KW/7382 1/min  |  23.2 PS/7382 1/min  |  22.7 Nm/6998 1/min | vmax: 118.2 km/h</text>
<text x="117.5" y="825.3" font-size="14" textLength="186.4" lengthAdjust="spacingAndGlyphs">k=0,961 (18°C/38%/1050mbar)</text>
<text x="117.5" y="840" font-size="14" textLength="129.7" lengthAdjust="spacingAndGlyphs" xml:space="preserve">RB20,  Matze RB20A</text>
<text x="-0.5" y="870.6" font-size="14" textLength="7" lengthAdjust="spacingAndGlyphs">7</text>
<text x="2" y="886.8" font-size="14" textLength="107.4" lengthAdjust="spacingAndGlyphs" xml:space="preserve">15.11.2007  16:23</text>
<text x="117.5" y="870.4" font-size="14" textLength="192.8" lengthAdjust="spacingAndGlyphs">LAMBRETTA 200ccm Standard</text>
<text x="117.5" y="885.6" font-size="14" textLength="505.1" lengthAdjust="spacingAndGlyphs" xml:space="preserve">6.6 KW/4914 1/min  |  9.0 PS/4914 1/min  |  13.3 Nm/4573 1/min | vmax: 69.7 km/h</text>
<text x="117.5" y="900.3" font-size="14" textLength="186.4" lengthAdjust="spacingAndGlyphs">k=0,971 (12°C/63%/1029mbar)</text>
<text x="117.5" y="915" font-size="14" textLength="88.9" lengthAdjust="spacingAndGlyphs">original indisch</text>
</g>
<path d="M0 797.5H113.5" stroke="#c84040"/>
<path d="M0 874.5H113.5" stroke="#5a5ae6" stroke-width="1.3"/>
<rect x="97.8" y="63.5" width="33.1" height="33.2" fill="#fff" stroke="#e01818" stroke-width="2.2"/>
<g font-family="'Liberation Serif', serif" font-weight="bold" fill="#e00a0a"><text x="100.6" y="85.7" font-size="29">p</text><text x="116.4" y="85.7" font-size="27">4</text></g>
<path d="M100.8 67.8H121.1M109.5 90.3H127.7" stroke="#333" stroke-width="1.3" stroke-dasharray="1.3 0.8"/>
</svg>
</body></html>
